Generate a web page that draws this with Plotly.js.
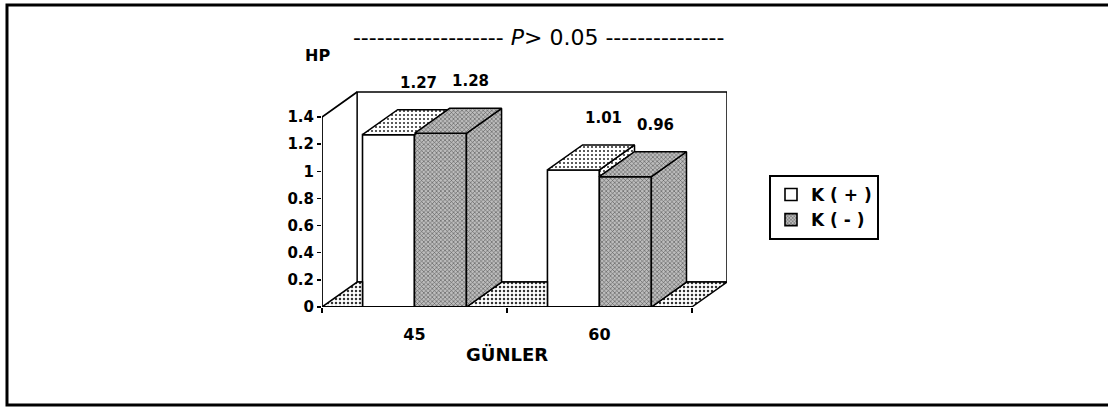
<!DOCTYPE html>
<html>
<head>
<meta charset="utf-8">
<script src="https://cdn.plot.ly/plotly-3.0.1.min.js"></script>
<style>html,body{margin:0;padding:0;background:#fff;}#chart{width:1108px;height:407px;}</style>
</head>
<body>
<div id="chart"></div>
<script>
// ---- data ----
const categories = ['45', '60'];
const kPlus = [1.27, 1.01];
const kMinus = [1.28, 0.96];
const seriesNames = ['K ( + )', 'K ( - )'];
const yTickVals = [0, 0.2, 0.4, 0.6, 0.8, 1, 1.2, 1.4];
const xTitle = 'GÜNLER';
const yTitle = 'HP';
const pText = '<i>P</i>&gt; 0.05';

// ---- geometry (styling constants) ----
const BW = 0.281;        // bar width in category units
const DX = 0.19;         // 3D depth, x units
const DY = 0.184;        // 3D depth, y units
const XMIN = -0.5, XMAX = categories.length - 0.5;
const YTOP = 1.4;
const FONT = 'DejaVu Sans';

const series = [kPlus, kMinus];
const idx = categories.map((c, i) => i);
const lefts = [idx.map(i => i - BW), idx.map(i => i)];

const whiteDots = {shape: '.', size: 4, solidity: 0.22, fgcolor: '#333', bgcolor: '#ffffff'};
const floorDots = {shape: '.', size: 4, solidity: 0.3, fgcolor: '#333', bgcolor: '#ffffff'};
const grayTex = {shape: 'x', size: 3, solidity: 0.35, fgcolor: '#555', bgcolor: '#bdbdbd'};
const texs = [whiteDots, grayTex];

const traces = [];

// front faces (bars)
series.forEach((vals, s) => {
  traces.push({
    type: 'bar', x: idx, y: vals, name: seriesNames[s],
    width: BW, offset: s === 0 ? -BW : 0,
    marker: {color: s === 0 ? '#ffffff' : '#b5b5b5',
             pattern: s === 0 ? {shape: ''} : grayTex,
             line: {color: '#000', width: 1.6}},
    hoverinfo: 'skip'
  });
});

// floor visible pieces
const fx = [], fy = [];
const nG = categories.length;
for (let k = 0; k <= nG; k++) {
  const lx = k === 0 ? XMIN : lefts[1][k - 1] + BW;
  const rx = k === nG ? XMAX : lefts[0][k];
  const rTop = k === nG ? rx + DX : rx;
  fx.push(lx, rx, rTop, lx + DX, lx, null);
  fy.push(0, 0, DY, DY, 0, null);
}
traces.push({type: 'scatter', mode: 'lines', x: fx, y: fy, fill: 'toself',
  fillcolor: '#fff', fillpattern: floorDots, line: {color: '#000', width: 1.5},
  showlegend: false, hoverinfo: 'skip'});

// side and top faces
idx.forEach(i => {
  series.forEach((vals, s) => {
    const L = lefts[s][i], R = L + BW, v = vals[i];
    // side face (only the visible part)
    let sideBottom = 0;
    if (s < series.length - 1) sideBottom = series[s + 1][i];
    if (v > sideBottom) {
      traces.push({type: 'scatter', mode: 'lines', fill: 'toself',
        x: [R, R + DX, R + DX, R, R],
        y: [sideBottom, sideBottom + DY, v + DY, v, sideBottom],
        fillcolor: '#fff', fillpattern: texs[s], line: {color: '#000', width: 1.5},
        showlegend: false, hoverinfo: 'skip'});
    }
    // top face
    traces.push({type: 'scatter', mode: 'lines', fill: 'toself',
      x: [L, R, R + DX, L + DX, L],
      y: [v, v, v + DY, v + DY, v],
      fillcolor: '#fff', fillpattern: texs[s], line: {color: '#000', width: 1.5},
      showlegend: false, hoverinfo: 'skip'});
  });
});

// value labels
const annotations = [];
series.forEach((vals, s) => {
  vals.forEach((v, i) => {
    annotations.push({x: lefts[s][i] + BW / 2 + DX * 0.85, y: v + DY, xref: 'x', yref: 'y',
      xanchor: 'center', yanchor: 'middle',
      text: v.toFixed(2), showarrow: false, yshift: 27,
      font: {family: FONT, size: 15, color: '#000', weight: 'bold'}});
  });
});
// axis texts
annotations.push({x: (XMIN + XMAX) / 2, y: -0.212, xref: 'x', yref: 'paper', text: xTitle,
  xanchor: 'center', yanchor: 'middle',
  showarrow: false, font: {family: FONT, size: 18, color: '#000', weight: 'bold'}});
annotations.push({x: -0.01, y: 1.135, xref: 'paper', yref: 'paper', text: yTitle,
  xanchor: 'center', yanchor: 'middle',
  showarrow: false, font: {family: FONT, size: 16, color: '#000', weight: 'bold'}});

const shapes = [
  // back wall
  {type: 'rect', layer: 'below', xref: 'x', yref: 'y', x0: XMIN + DX, x1: XMAX + DX, y0: DY, y1: YTOP + DY,
   fillcolor: '#fff', line: {color: '#000', width: 1.5}},
  // y axis line and left wall top edge
  {type: 'path', layer: 'above', xref: 'x', yref: 'y',
   path: `M${XMIN},0 L${XMIN},${YTOP} L${XMIN + DX},${YTOP + DY}`, line: {color: '#000', width: 1.8}},
  // x axis line
  {type: 'line', layer: 'above', xref: 'x', yref: 'y', x0: XMIN, x1: XMAX, y0: 0, y1: 0,
   line: {color: '#000', width: 2}},
  // outer frame
  {type: 'path', xref: 'paper', yref: 'paper', layer: 'above',
   path: 'M1.96,1.3604 L-0.7778,1.3604 L-0.7778,-0.4414 L1.96,-0.4414',
   line: {color: '#000', width: 3}}
];

const layout = {
  width: 1108, height: 407,
  margin: {l: 322, r: 381, t: 85, b: 100, pad: 0},
  paper_bgcolor: '#fff', plot_bgcolor: 'rgba(0,0,0,0)',
  title: {text: '-'.repeat(19) + ' ' + pText + ' ' + '-'.repeat(15),
          font: {family: FONT, size: 22, color: '#000'},
          x: 0.535, xref: 'paper', xanchor: 'center', y: 0.909, yref: 'container', yanchor: 'middle'},
  xaxis: {range: [XMIN, XMAX + DX], tickvals: idx, ticktext: categories, ticks: '',
          showgrid: false, zeroline: false, showline: false, ticklabelstandoff: 16,
          tickfont: {family: FONT, size: 16, color: '#000', weight: 'bold'},
          minor: {tickvals: [XMIN, 0.5, XMAX], ticks: 'outside', ticklen: 5, tickwidth: 1.5,
                  tickcolor: '#000', showgrid: false},
          fixedrange: true},
  yaxis: {range: [0, 1.636], tickvals: yTickVals, ticks: 'outside', ticklen: 4, tickwidth: 1.5,
          tickcolor: '#000', showgrid: false, zeroline: false, showline: false,
          tickfont: {family: FONT, size: 15, color: '#000', weight: 'bold'}, fixedrange: true},
  barmode: 'overlay',
  showlegend: true,
  legend: {x: 1.1037, y: 0.5946, xanchor: 'left', yanchor: 'top', bordercolor: '#000', borderwidth: 2,
           bgcolor: '#fff', font: {family: FONT, size: 17, color: '#000', weight: 'bold'},
           itemwidth: 30, tracegroupgap: 0},
  annotations: annotations,
  shapes: shapes
};

Plotly.newPlot('chart', traces, layout, {staticPlot: true, displayModeBar: false});
</script>
</body>
</html>
